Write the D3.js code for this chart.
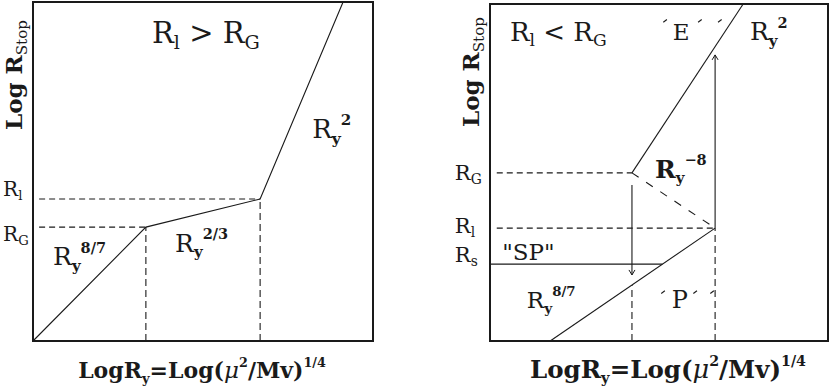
<!DOCTYPE html>
<html><head><meta charset="utf-8">
<script src="https://cdn.jsdelivr.net/npm/d3@7"></script>
<style>body{margin:0;background:#fff}svg{display:block}</style>
</head><body>
<svg id="c" width="830" height="387"></svg>
<script>
// ---------- data (abstract log units, 0..10 on both axes) ----------
const xDomain = [0, 10];
const yDomain = [0, 10];

// Left panel: R_l > R_G
const leftCurve = [[0, 0], [3.32, 3.36], [6.68, 4.19], [9.12, 10]];
const leftGuidesH = [[0.18, 6.68, 4.19], [0.18, 3.32, 3.36]];   // x0, x1, y
const leftGuidesV = [[3.32, 0, 3.36], [6.68, 0, 4.19]];         // x, y0, y1
const leftLabels = [
  { x: 3.5,  y: 8.79, size: 29, parts: [["R"], ["l", "sub"], [" > R"], ["G", "sub"]] },
  { x: 8.21, y: 5.99, size: 26, parts: [["R"], ["y", "subb"], ["2", "sup"]] },
  { x: 0.59, y: 2.24, size: 25, parts: [["R"], ["y", "subb"], ["8/7", "sup"]] },
  { x: 4.18, y: 2.63, size: 25, parts: [["R"], ["y", "subb"], ["2/3", "sup"]] },
  { x: -0.88, y: 4.28, size: 20, parts: [["R"], ["l", "sub"]] },
  { x: -0.88, y: 2.95, size: 20, parts: [["R"], ["G", "sub"]] }
];

// Right panel: R_l < R_G
const rightLowCurve = [[1.78, 0], [6.66, 3.35]];
const rightHighCurve = [[4.2, 4.99], [7.49, 10]];
const rightBranch = [[4.2, 4.99], [6.66, 3.35]];                // dashed R_y^-8
const rightRsLine = [[0, 2.28], [5.1, 2.28]];
const rightGuidesH = [[0.2, 6.66, 3.35], [0.2, 4.2, 4.99]];
const rightGuidesV = [[4.2, 0, 1.66], [6.66, 0, 3.35]];
const rightArrows = [[6.66, 3.35, 8.49], [4.2, 4.63, 1.96]];   // x, from y, to y
const rightTicks = [[5.18, 9.5], [6.21, 9.5], [6.8, 9.5], [5.12, 1.45], [6.07, 1.45], [6.57, 1.45]];
const rightLabels = [
  { x: 0.59, y: 8.9,  size: 26, parts: [["R"], ["l", "sub"], [" < R"], ["G", "sub"]] },
  { x: 7.69, y: 8.93, size: 25, parts: [["R"], ["y", "subb"], ["2", "sup"]] },
  { x: 5.41, y: 8.93, size: 23, parts: [["E"]] },
  { x: 4.88, y: 4.84, size: 25, bold: true, parts: [["R"], ["y", "subb"], ["\u22128", "sup"]] },
  { x: 1.09, y: 0.98, size: 23, parts: [["R"], ["y", "subb"], ["8/7", "sup"]] },
  { x: 5.38, y: 0.98, size: 24, parts: [["P"]] },
  { x: 0.36, y: 2.4,  size: 23, parts: [["\"SP\""]] },
  { x: -1.04, y: 4.78, size: 21, parts: [["R"], ["G", "sub"]] },
  { x: -1.04, y: 3.2,  size: 21, parts: [["R"], ["l", "sub"]] },
  { x: -1.04, y: 2.34, size: 21, parts: [["R"], ["s", "sub"]] }
];

const yTitleParts = [["Log  R"], ["Stop", "sub"]];
const xTitleParts = [["LogR"], ["y", "subb"], ["=Log("], ["\u03bc", "it"], ["2", "sup"], ["/Mv)"], ["1/4", "sup"]];

// ---------- drawing ----------
const svg = d3.select("#c");
const FONT = "'DejaVu Serif', 'Liberation Serif', serif";
const INK = "#1a1a1a";

svg.append("defs").append("marker")
  .attr("id", "arr").attr("viewBox", "-6 -4 8 8")
  .attr("refX", 0).attr("refY", 0)
  .attr("markerWidth", 8).attr("markerHeight", 8)
  .attr("markerUnits", "userSpaceOnUse")
  .attr("orient", "auto")
  .append("path").attr("d", "M-5,-3L0,0L-5,3")
  .attr("fill", "none").attr("stroke", INK).attr("stroke-width", 1);

function richText(g, x, y, size, parts, opts = {}) {
  const t = g.append("text").attr("x", x).attr("y", y)
    .attr("font-family", FONT).attr("font-size", size)
    .attr("fill", INK)
    .attr("font-weight", opts.bold ? "bold" : "normal")
    .attr("text-anchor", opts.anchor || "start");
  if (opts.transform) t.attr("transform", opts.transform);
  let off = 0;
  parts.forEach(([s, role]) => {
    let target = 0, fs = size, fw = null, st = null;
    if (role === "sub") { target = size * 0.2; fs = size * 0.66; fw = "normal"; }
    else if (role === "subb") { target = size * 0.22; fs = size * 0.6; fw = "bold"; }
    else if (role === "sup") { target = -size * 0.5; fs = size * 0.58; fw = "bold"; }
    else if (role === "it") { st = "italic"; fs = size * 1.05; }
    const ts = t.append("tspan").attr("font-size", fs).attr("dy", target - off).text(s);
    if (fw) ts.attr("font-weight", fw);
    if (st) ts.attr("font-style", st).attr("font-weight", "normal");
    off = target;
  });
  return t;
}

function panel(cfg) {
  const x = d3.scaleLinear().domain(xDomain).range([cfg.left, cfg.right]);
  const y = d3.scaleLinear().domain(yDomain).range([cfg.bottom, cfg.top]);
  const g = svg.append("g");
  const line = d3.line().x(d => x(d[0])).y(d => y(d[1]));

  g.selectAll(null).data(cfg.guidesH).join("line")
    .attr("x1", d => x(d[0])).attr("x2", d => x(d[1]))
    .attr("y1", d => y(d[2])).attr("y2", d => y(d[2]))
    .attr("stroke", INK).attr("stroke-width", 1.1).attr("stroke-dasharray", "6,4");
  g.selectAll(null).data(cfg.guidesV).join("line")
    .attr("x1", d => x(d[0])).attr("x2", d => x(d[0]))
    .attr("y1", d => y(d[1])).attr("y2", d => y(d[2]))
    .attr("stroke", INK).attr("stroke-width", 1.1).attr("stroke-dasharray", "7,4");

  (cfg.solid || []).forEach(c => g.append("path").attr("d", line(c))
    .attr("fill", "none").attr("stroke", INK).attr("stroke-width", 1.1));
  (cfg.dashed || []).forEach(c => g.append("path").attr("d", line(c))
    .attr("fill", "none").attr("stroke", INK).attr("stroke-width", 1.1)
    .attr("stroke-dasharray", "8,9"));
  g.selectAll(null).data(cfg.arrows || []).join("line")
    .attr("x1", d => x(d[0])).attr("x2", d => x(d[0]))
    .attr("y1", d => y(d[1])).attr("y2", d => y(d[2]))
    .attr("stroke", INK).attr("stroke-width", 1.1).attr("marker-end", "url(#arr)");
  g.selectAll(null).data(cfg.ticks || []).join("line")
    .attr("x1", d => x(d[0]) - 1.8).attr("x2", d => x(d[0]) + 1.8)
    .attr("y1", d => y(d[1]) + 1.4).attr("y2", d => y(d[1]) - 1.4)
    .attr("stroke", INK).attr("stroke-width", 1.1);

  g.append("rect").attr("x", cfg.left).attr("y", cfg.top)
    .attr("width", cfg.right - cfg.left).attr("height", cfg.bottom - cfg.top)
    .attr("fill", "none").attr("stroke", INK).attr("stroke-width", 2);

  cfg.labels.forEach(l => richText(g, x(l.x), y(l.y), l.size, l.parts, { bold: l.bold }));

  richText(g, 0, 0, cfg.yTitleSize, yTitleParts, {
    bold: true, anchor: "middle",
    transform: `translate(${cfg.yTitleX},${cfg.yTitleY}) rotate(-90)`
  });
  richText(g, cfg.xTitleX, 378, cfg.xTitleSize, xTitleParts, { bold: true, anchor: "middle" });
}

panel({
  left: 33, right: 373, top: 2, bottom: 341,
  guidesH: leftGuidesH, guidesV: leftGuidesV,
  solid: [leftCurve], labels: leftLabels,
  yTitleX: 22, yTitleY: 75, yTitleSize: 23, xTitleX: 202, xTitleSize: 22
});
panel({
  left: 490, right: 828, top: 4, bottom: 341,
  guidesH: rightGuidesH, guidesV: rightGuidesV,
  solid: [rightLowCurve, rightHighCurve, rightRsLine],
  dashed: [rightBranch], arrows: rightArrows, ticks: rightTicks,
  labels: rightLabels,
  yTitleX: 479, yTitleY: 72, yTitleSize: 23, xTitleX: 668, xTitleSize: 24.5
});
</script>
</body></html>
